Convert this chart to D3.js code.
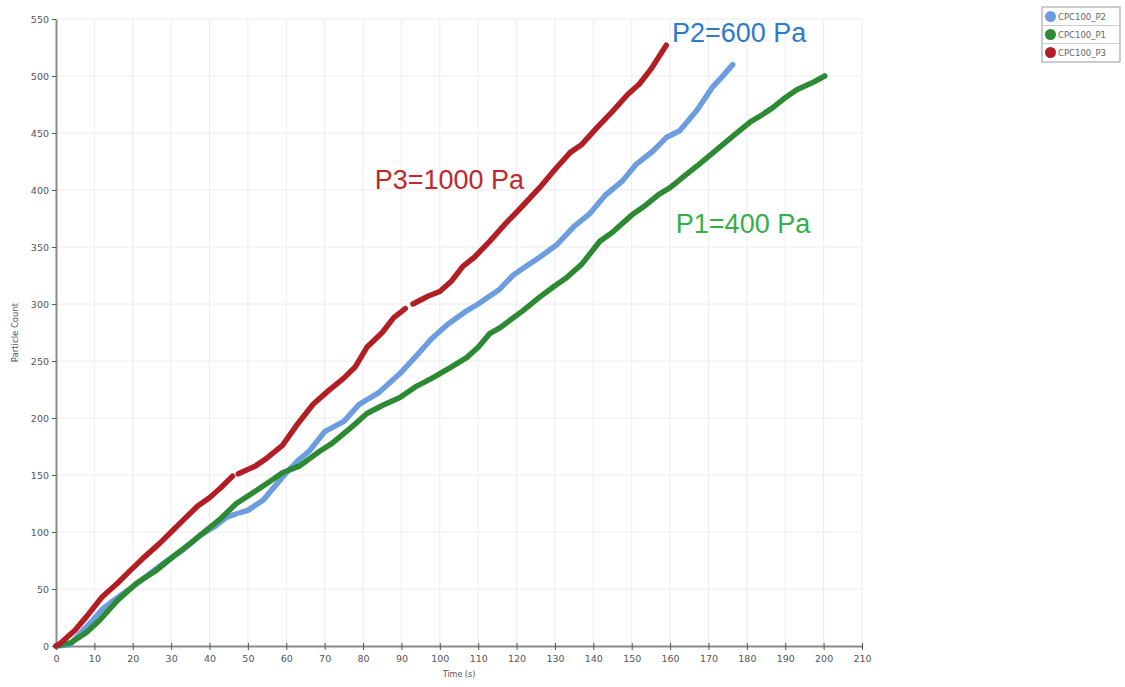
<!DOCTYPE html>
<html>
<head>
<meta charset="utf-8">
<script src="https://cdn.jsdelivr.net/npm/d3@7"></script>
<style>
  body { margin: 0; background: #fff; }
  text { font-family: "DejaVu Sans", sans-serif; }
</style>
</head>
<body>
<div id="chart"></div>
<script>
// series: [time (s), particle count]
const p3 = [[0,0],[1,2],[5,14],[8,26],[12,43],[16,55],[19,65],[23,78],[27,90],[30,100],[33,110],[37,123],[40,130],[43,139],[46,149],null,
  [47.5,151],[52,158],[55,165],[59,176],[63,195],[67,212],[71,224],[75,235],[78,245],[81,262],[85,275],[88,288],[91,296],null,[93,300],[97,307],[100,311],
  [103,320],[106,333],[109,341],[113,355],[117,370],[121,384],[126,402],[130,418],[134,433],[137,440],[141,455],[145,469],[149,484],[152,493],[155,506],[159,527]];
const p2 = [[0,0],[3.6,1],[6,10],[9.7,23],[12,32],[15,40],[20,52],[25,65],[29,75],[33,84],[37.5,97],[41,104],[44.5,113],[47,116],null,[48,117],[50,119],
  [54,128],[57.5,142],[60,152],[63.5,164],[66,171],[70,188],[75,197],[79,212],[84,222],[89.6,239],[94,255],[98,270],[102,282],[107,294],[110,300],
  [115.6,313],[119,325],[122,332],[126,341],[130.5,352],[135,368],[139,379],[143,395],[147.6,408],[151,422],[155.5,434],[159,446],[162.5,452],
  [167,470],[171,490],[174,501],[176.3,510]];
const p1 = [[0,0],[4,3],[8,12],[11.5,23],[16,40],[21,55],[26,66],[31.5,81],[35,90],[39,101],[43,112],[47,125],[52,136],[56,145],[59,152],[63.5,158],
  [68.8,171],[72,178],[77,192],[81,204],[85,211],[89.6,218],[94,228],[98,235],[102.6,244],[107,253],[110,262],[113,274],[115.6,279],[118,285],
  [121.6,294],[126,306],[130,316],[133,323],[137,335],[141.7,355],[145,363],[150,378],[153,385],[157,396],[160,402],[164,413],[167.7,423],
  [172,435],[177,449],[181,460],[184,466],[186.7,472],[190,481],[193,488],[197,494],[200.3,500]];

const seriesNames = ["CPC100_P2", "CPC100_P1", "CPC100_P3"];
const seriesColors = ["#6b9ddf", "#2b8a32", "#b31e24"];
const seriesData = [p2, p1, p3];
const xTicks = d3.range(0, 211, 10);
const yTicks = d3.range(0, 551, 50);
const labels = [
  {text: "P2=600 Pa", x: 178, y: 530, color: "#2b7bc9"},
  {text: "P3=1000 Pa", x: 102.5, y: 401, color: "#c0282d"},
  {text: "P1=400 Pa", x: 179, y: 362, color: "#36ae4a"}
];

const W = 1125, H = 687;
const margin = {top: 19, right: 263, bottom: 41, left: 56};
const width = W - margin.left - margin.right,
  height = H - margin.top - margin.bottom;

const svg = d3.select("#chart").append("svg")
  .attr("width", W).attr("height", H);
const g = svg.append("g")
  .attr("transform", `translate(${margin.left}, ${margin.top})`);

const x = d3.scaleLinear().domain([0, 210]).range([0, width]);
const y = d3.scaleLinear().domain([0, 550]).range([height, 0]);

// grid
g.append("g").selectAll("line").data(xTicks.slice(1)).enter().append("line")
  .attr("x1", d => x(d)).attr("x2", d => x(d))
  .attr("y1", 0).attr("y2", height)
  .attr("stroke", "#ececec");
g.append("g").selectAll("line").data(yTicks.slice(1)).enter().append("line")
  .attr("x1", 0).attr("x2", width)
  .attr("y1", d => y(d)).attr("y2", d => y(d))
  .attr("stroke", "#ececec");

// axes
const xAxis = g.append("g")
  .attr("transform", `translate(0, ${height})`)
  .call(d3.axisBottom(x).tickValues(xTicks).tickSize(4).tickSizeOuter(0));
const yAxis = g.append("g")
  .call(d3.axisLeft(y).tickValues(yTicks).tickSize(4).tickSizeOuter(0));
[xAxis, yAxis].forEach(a => {
  a.select(".domain").attr("stroke", "#8a8a8a").attr("stroke-width", 2);
  a.selectAll(".tick line").attr("stroke", "#555");
  a.selectAll("text").attr("fill", "#555").style("font-size", "9.5px");
});
xAxis.selectAll(".tick line").attr("y1", -3);
xAxis.selectAll("text").attr("dy", "0.9em");

g.append("text")
  .attr("x", width / 2).attr("y", height + 31)
  .attr("text-anchor", "middle")
  .attr("fill", "#555").style("font-size", "8px")
  .text("Time (s)");
g.append("text")
  .attr("transform", `translate(${-38}, ${height / 2}) rotate(-90)`)
  .attr("text-anchor", "middle")
  .attr("fill", "#555").style("font-size", "8.5px")
  .text("Particle Count");

// lines
const line = d3.line()
  .defined(d => d != null)
  .x(d => x(d[0]))
  .y(d => y(d[1]))
  .curve(d3.curveLinear);

seriesData.forEach((data, i) => {
  g.append("path")
    .datum(data)
    .attr("fill", "none")
    .attr("stroke", seriesColors[i])
    .attr("stroke-width", 5.5)
    .attr("stroke-linejoin", "round")
    .attr("stroke-linecap", "round")
    .attr("d", line);
});

// annotations
g.selectAll(".lbl").data(labels).enter().append("text")
  .attr("x", d => x(d.x)).attr("y", d => y(d.y))
  .attr("text-anchor", "middle")
  .attr("fill", d => d.color)
  .style("font-family", "'Liberation Sans', Arial, sans-serif")
  .style("font-size", "27px")
  .text(d => d.text);

// legend
const legend = svg.append("g").attr("transform", "translate(1042, 7)");
legend.append("rect")
  .attr("width", 78).attr("height", 55)
  .attr("fill", "#fff").attr("stroke", "#999");
seriesNames.forEach((name, i) => {
  const row = legend.append("g").attr("transform", `translate(0, ${i * 18})`);
  if (i > 0) row.append("line").attr("x1", 1).attr("x2", 77).attr("y1", 0.5).attr("y2", 0.5).attr("stroke", "#ccc");
  row.append("circle").attr("cx", 8.5).attr("cy", 9.5).attr("r", 5.5).attr("fill", seriesColors[i]);
  row.append("text").attr("x", 16).attr("y", 13)
    .attr("fill", "#666").style("font-size", "8.5px")
    .text(name);
});
</script>
</body>
</html>
